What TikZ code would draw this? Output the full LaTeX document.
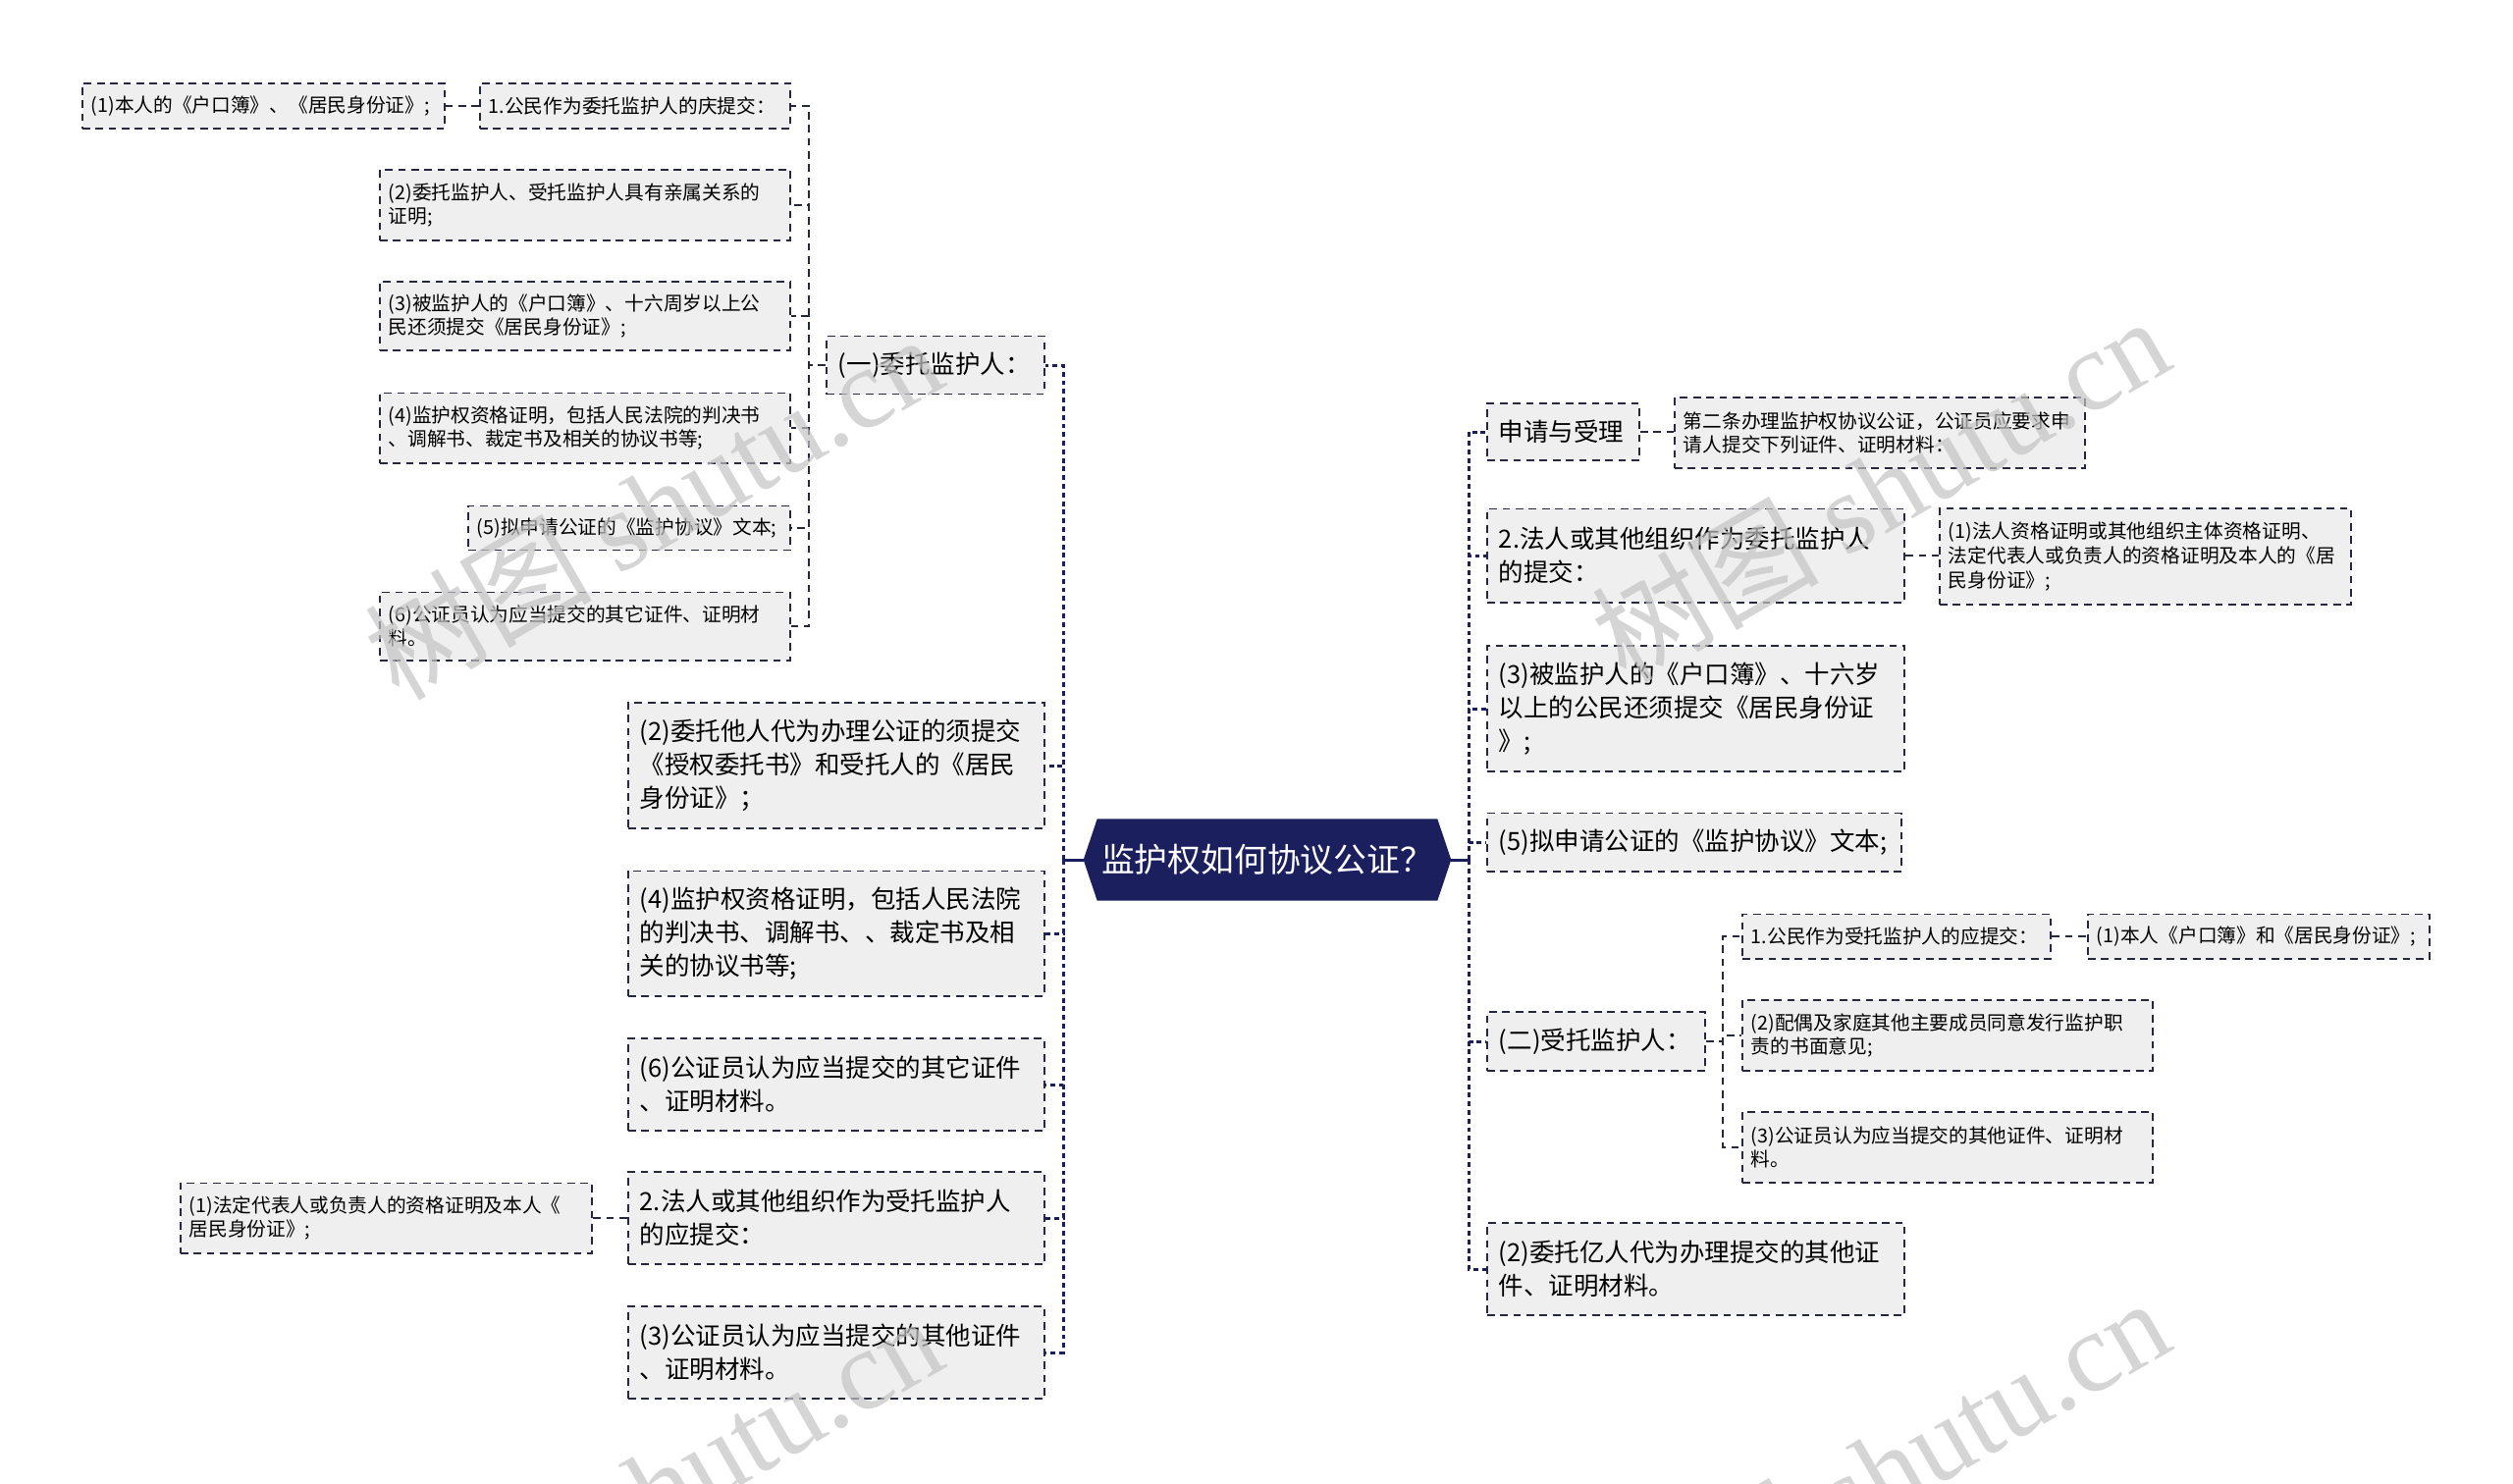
\documentclass[tikz,border=0pt]{standalone}
\usepackage{fontspec}
\setmainfont{Noto Sans CJK SC}
\newfontfamily\wmlatin{Liberation Serif}
\usetikzlibrary{positioning,backgrounds}
\definecolor{rootcol}{RGB}{27,31,94}
\definecolor{boxfill}{RGB}{239,239,239}
\definecolor{boxline}{RGB}{38,40,64}
\definecolor{wmcol}{RGB}{195,195,195}

\begin{document}
\begin{tikzpicture}[x=0.01cm,y=-0.01cm,
  box/.style={rectangle,draw=boxline,fill=boxfill,line width=0.55pt,
              dash pattern=on 2.2pt off 1.6pt,align=left,inner ysep=0pt},
  leaf/.style={box,font=\fontsize{5.6}{7}\selectfont,inner xsep=0.09cm,text width=#1},
  branch/.style={box,font=\fontsize{7.25}{9.7}\selectfont,inner xsep=0.12cm,text width=#1},
  rootbox/.style={font=\fontsize{9.6}{11}\selectfont,text=white,
                  minimum width=3.73cm,minimum height=0.82cm,inner sep=0pt},
  trunk/.style={draw=rootcol,line width=0.85pt,dash pattern=on 1.4pt off 1.1pt},
  rootlink/.style={draw=rootcol,line width=0.85pt},
  twig/.style={draw=boxline,line width=0.45pt,dash pattern=on 2.2pt off 1.6pt},
  watermark/.style={rotate=30,text=wmcol,opacity=0.7,font=\fontsize{33}{38}\selectfont}
]
\useasboundingbox (0,0) rectangle (2560,1511);
\def\xlt{1083}\def\xls{824}\def\xrt{1496}\def\xrs{1755}
\coordinate (lt) at (\xlt,0);
\coordinate (ls) at (\xls,0);
\coordinate (rt) at (\xrt,0);
\coordinate (rs) at (\xrs,0);

% centre
\node[rootbox] (root) at (1291,876) {监护权如何协议公证？};
\begin{scope}[on background layer]
\fill[rootcol] (root.west) -- ([xshift=0.14cm]root.north west)
  -- ([xshift=-0.14cm]root.north east) -- (root.east)
  -- ([xshift=-0.14cm]root.south east) -- ([xshift=0.14cm]root.south west) -- cycle;
\end{scope}

% left branches
\node[branch=1.98cm,minimum height=0.59cm,anchor=east] (l1) at (1065,372) {(一)委托监护人：};
\node[branch=4.00cm,minimum height=1.28cm,anchor=east] (l2) at (1065,780)
  {(2)委托他人代为办理公证的须提交\\《授权委托书》和受托人的《居民\\身份证》；};
\node[branch=4.00cm,minimum height=1.27cm,anchor=east] (l3) at (1065,951)
  {(4)监护权资格证明，包括人民法院\\的判决书、调解书、、裁定书及相\\关的协议书等;};
\node[branch=4.00cm,minimum height=0.94cm,anchor=east] (l4) at (1065,1105)
  {(6)公证员认为应当提交的其它证件\\、证明材料。};
\node[branch=4.00cm,minimum height=0.94cm,anchor=east] (l5) at (1065,1241)
  {2.法人或其他组织作为受托监护人\\的应提交：};
\node[branch=4.00cm,minimum height=0.94cm,anchor=east] (l6) at (1065,1378)
  {(3)公证员认为应当提交的其他证件\\、证明材料。};

% leaves of (一)
\node[leaf=2.98cm,minimum height=0.46cm,anchor=east] (a2) at (806,108) {1.公民作为委托监护人的庆提交：};
\node[leaf=3.51cm,minimum height=0.46cm,anchor=east] (a1) at (454,108) {(1)本人的《户口簿》、《居民身份证》;};
\node[leaf=4.00cm,minimum height=0.72cm,anchor=east] (b2) at (806,209)
  {(2)委托监护人、受托监护人具有亲属关系的\\证明;};
\node[leaf=4.00cm,minimum height=0.70cm,anchor=east] (b3) at (806,322)
  {(3)被监护人的《户口簿》、十六周岁以上公\\民还须提交《居民身份证》;};
\node[leaf=4.00cm,minimum height=0.71cm,anchor=east] (b4) at (806,436)
  {(4)监护权资格证明，包括人民法院的判决书\\、调解书、裁定书及相关的协议书等;};
\node[leaf=3.10cm,minimum height=0.45cm,anchor=east] (b5) at (806,538)
  {(5)拟申请公证的《监护协议》文本;};
\node[leaf=4.00cm,minimum height=0.69cm,anchor=east] (b6) at (806,638)
  {(6)公证员认为应当提交的其它证件、证明材\\料。};
\node[leaf=4.01cm,minimum height=0.71cm,anchor=east] (l5a) at (604,1241)
  {(1)法定代表人或负责人的资格证明及本人《\\居民身份证》;};

% right branches
\node[branch=1.31cm,minimum height=0.58cm,anchor=west] (r1) at (1514,440) {申请与受理};
\node[branch=4.01cm,minimum height=0.95cm,anchor=west] (r2) at (1514,566)
  {2.法人或其他组织作为委托监护人\\的提交：};
\node[branch=4.01cm,minimum height=1.28cm,anchor=west] (r3) at (1514,722)
  {(3)被监护人的《户口簿》、十六岁\\以上的公民还须提交《居民身份证\\》;};
\node[branch=3.98cm,minimum height=0.59cm,anchor=west] (r4) at (1514,858)
  {(5)拟申请公证的《监护协议》文本;};
\node[branch=1.98cm,minimum height=0.60cm,anchor=west] (r5) at (1514,1061) {(二)受托监护人：};
\node[branch=4.01cm,minimum height=0.94cm,anchor=west] (r6) at (1514,1293)
  {(2)委托亿人代为办理提交的其他证\\件、证明材料。};

% right leaves
\node[leaf=4.00cm,minimum height=0.72cm,anchor=west] (r1a) at (1705,441)
  {第二条办理监护权协议公证，公证员应要求申\\请人提交下列证件、证明材料：};
\node[leaf=4.01cm,minimum height=0.98cm,anchor=west] (r2a) at (1975,567)
  {(1)法人资格证明或其他组织主体资格证明、\\法定代表人或负责人的资格证明及本人的《居\\民身份证》;};
\node[leaf=2.96cm,minimum height=0.45cm,anchor=west] (r5a) at (1774,954) {1.公民作为受托监护人的应提交：};
\node[leaf=3.30cm,minimum height=0.45cm,anchor=west] (r5x) at (2126,954) {(1)本人《户口簿》和《居民身份证》;};
\node[leaf=4.00cm,minimum height=0.72cm,anchor=west] (r5b) at (1774,1055)
  {(2)配偶及家庭其他主要成员同意发行监护职\\责的书面意见;};
\node[leaf=4.00cm,minimum height=0.72cm,anchor=west] (r5c) at (1774,1169)
  {(3)公证员认为应当提交的其他证件、证明材\\料。};

% connectors
\draw[rootlink] (root.west) -- (root.west -| lt);
\foreach \n in {l1,l2,l3,l4,l5,l6}
  \draw[trunk] (root.west -| lt) |- (\n.east);
\draw[rootlink] (root.east) -- (root.east -| rt);
\foreach \n in {r1,r2,r3,r4,r5,r6}
  \draw[trunk] (root.east -| rt) |- (\n.west);
\foreach \n in {a2,b2,b3,b4,b5,b6}
  \draw[twig] (l1.west) -- (l1.west -| ls) |- (\n.east);
\draw[twig] (a2.west) -- (a1.east);
\draw[twig] (l5.west) -- (l5a.east);
\draw[twig] (r1.east) -- (r1.east -| r1a.west);
\draw[twig] (r2.east) -- (r2.east -| r2a.west);
\foreach \n in {r5a,r5b,r5c}
  \draw[twig] (r5.east) -- (r5.east -| rs) |- (\n.west);
\draw[twig] (r5a.east) -- (r5x.west);

% watermarks
\begin{scope}
\clip (0,0) rectangle (2560,1511);
\foreach \p in {(665,515),(1915,497),(665,1515),(1915,1497)}
  \node[watermark] at \p {树图 {\wmlatin shutu.cn}};
\end{scope}
\end{tikzpicture}
\end{document}
